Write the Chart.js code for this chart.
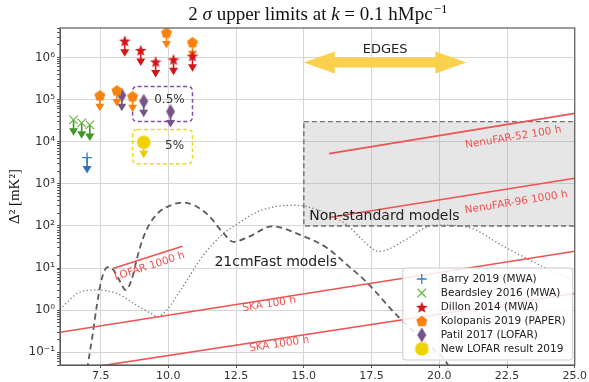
<!DOCTYPE html>
<html>
<head>
<meta charset="utf-8">
<script src="https://cdn.jsdelivr.net/npm/chart.js@4.4.1/dist/chart.umd.min.js"></script>
<style>
  html, body { margin: 0; padding: 0; background: #fff; }
  #chartBox { width: 589px; height: 382px; }
</style>
</head>
<body>
<div id="chartBox"><canvas id="limitsChart" width="589" height="382"></canvas></div>
<script>
// axis ticks
const xTicks = [7.5, 10, 12.5, 15, 17.5, 20, 22.5, 25];
const yTicks = [0.1, 1, 10, 100, 1e3, 1e4, 1e5, 1e6];
const yTickLabels = ['10⁻¹', '10⁰', '10¹', '10²', '10³', '10⁴', '10⁵', '10⁶'];

// 2 sigma upper limits (redshift, Delta^2 in mK^2)
const barryZ = [7.0];
const barryLim = [4.2e3];
const beardsleyZ = [6.5, 6.8, 7.1];
const beardsleyLim = [3.3e4, 2.8e4, 2.5e4];
const dillonZ = [8.39, 8.98, 9.53, 10.19, 10.89];
const dillonLim = [2.5e6, 1.5e6, 8.0e5, 9.0e5, 1.1e6];
const kolopanisZ = [7.47, 8.10, 8.68, 9.93, 10.89];
const kolopanisLim = [1.26e5, 1.65e5, 1.2e5, 3.9e6, 2.3e6];
const patilZ = [8.28, 9.09, 10.08];
const patilLim = [1.26e5, 9.1e4, 5.2e4];
const lofar2019Z = [9.09];
const lofar2019Lim = [9.7e3];

// 21cmFast models
const dashedModelZ = [7.0, 7.2, 7.36, 7.54, 7.76, 7.95, 8.2, 8.43, 8.65, 8.87, 9.06, 9.3, 9.68, 10.04, 10.52,
  11.04, 11.51, 12.0, 12.4, 12.98, 13.83, 14.82, 15.82, 16.66, 17.29, 18.5, 19.5, 20.26, 20.5];
const dashedModelVal = [0.04, 0.25, 1.3, 5.5, 10.5, 9.5, 5, 3, 5.5, 20, 50, 110, 220, 300, 360,
  290, 170, 71, 42, 56, 98, 63, 31, 11, 4.8, 0.68, 0.17, 0.058, 0.03];
const dottedModelZ = [6.0, 6.74, 7.36, 8.1, 8.83, 9.31, 9.6, 9.93, 10.52, 11.26, 12.0, 12.62, 13.24, 13.98,
  14.71, 15.19, 15.93, 16.66, 17.14, 17.76, 18.13, 18.6, 19.86, 21.0, 22.4, 23.8, 25];
const dottedModelVal = [1.05, 2.7, 3.0, 2.5, 1.3, 0.87, 0.7, 1.0, 3.5, 19, 63, 120, 210, 290,
  310, 280, 185, 98, 48, 25, 28, 41, 105, 95, 32, 11, 5];

// expected sensitivities
const lofar1000Z = [7.95, 10.52];
const lofar1000Val = [9.8, 33];
const ska100Z = [6, 25];
const ska100Val = [0.30, 25];
const ska1000Z = [6, 25];
const ska1000Val = [0.034, 2.5];
const nenu52Z = [15.93, 25];
const nenu52Val = [5.2e3, 4.7e4];
const nenu96Z = [15.93, 25];
const nenu96Val = [158, 1350];

// regions
const nonStdZ = [15, 25];
const nonStdRange = [100, 3e4];
const edgesZ = [15.0, 21.0];
const edgesLevel = 7.6e5;
const patilBoxZ = [8.68, 10.89];
const patilBoxRange = [3e4, 2.05e5];
const lofarBoxZ = [8.68, 10.89];
const lofarBoxRange = [3e3, 1.95e4];

const pts = (zs, vs) => zs.map((z, i) => ({ x: z, y: vs[i] }));

// marker images
function markerImg(w, h, draw) {
  const c = document.createElement('canvas');
  c.width = w; c.height = h;
  draw(c.getContext('2d'), w / 2, h / 2);
  return c;
}
const starImg = markerImg(14, 14, (g, cx, cy) => {
  g.beginPath();
  for (let i = 0; i < 10; i++) {
    const a = -Math.PI / 2 + i * Math.PI / 5, r = i % 2 ? 2.6 : 6.2;
    g.lineTo(cx + r * Math.cos(a), cy + r * Math.sin(a) + 0.8);
  }
  g.closePath(); g.fillStyle = '#d0161b'; g.fill();
});
const pentagonImg = markerImg(14, 14, (g, cx, cy) => {
  g.beginPath();
  for (let i = 0; i < 5; i++) {
    const a = -Math.PI / 2 + i * 2 * Math.PI / 5;
    g.lineTo(cx + 5.8 * Math.cos(a), cy + 5.8 * Math.sin(a) + 0.6);
  }
  g.closePath(); g.fillStyle = '#f7820f'; g.fill();
});
const diamondImg = markerImg(12, 18, (g, cx, cy) => {
  g.beginPath();
  g.moveTo(cx, cy - 7.5); g.lineTo(cx + 4.5, cy); g.lineTo(cx, cy + 7.5); g.lineTo(cx - 4.5, cy);
  g.closePath(); g.fillStyle = '#765488'; g.fill();
});
const circleImg = markerImg(16, 16, (g, cx, cy) => {
  g.beginPath(); g.arc(cx, cy, 6.8, 0, Math.PI * 2); g.fillStyle = '#efd300'; g.fill();
});

const redLine = (label, zs, vs, text, tz, tv) => ({
  type: 'line', label, data: pts(zs, vs), borderColor: '#ee5353', borderWidth: 1.6,
  pointRadius: 0, fill: false, order: 1, lineText: text, textAt: [tz, tv]
});

const datasets = [
  { label: 'Barry 2019 (MWA)', data: pts(barryZ, barryLim), pointStyle: 'cross', pointRadius: 5,
    borderColor: '#3b7dc4', borderWidth: 1.3, arrowColor: '#3070bd', order: 0 },
  { label: 'Beardsley 2016 (MWA)', data: pts(beardsleyZ, beardsleyLim), pointStyle: 'crossRot', pointRadius: 6,
    borderColor: '#68b546', borderWidth: 1.2, arrowColor: '#3c9a23', order: 0 },
  { label: 'Dillon 2014 (MWA)', data: pts(dillonZ, dillonLim), pointStyle: starImg, pointRadius: 6,
    arrowColor: '#d0161b', order: 0 },
  { label: 'Kolopanis 2019 (PAPER)', data: pts(kolopanisZ, kolopanisLim), pointStyle: pentagonImg, pointRadius: 6,
    arrowColor: '#f7820f', order: 0 },
  { label: 'Patil 2017 (LOFAR)', data: pts(patilZ, patilLim), pointStyle: diamondImg, pointRadius: 6,
    arrowColor: '#765488', order: 0 },
  { label: 'New LOFAR result 2019', data: pts(lofar2019Z, lofar2019Lim), pointStyle: circleImg, pointRadius: 7,
    arrowColor: '#e8cc00', order: 0 },
  redLine('LOFAR 1000 h', lofar1000Z, lofar1000Val, 'LOFAR 1000 h', 9.31, 11),
  redLine('SKA 100 h', ska100Z, ska100Val, 'SKA 100 h', 13.72, 1.38),
  redLine('SKA 1000 h', ska1000Z, ska1000Val, 'SKA 1000 h', 14.09, 0.155),
  redLine('NenuFAR-52 100 h', nenu52Z, nenu52Val, 'NenuFAR-52 100 h', 22.73, 1.26e4),
  redLine('NenuFAR-96 1000 h', nenu96Z, nenu96Val, 'NenuFAR-96 1000 h', 22.84, 363),
  { type: 'line', label: 'model dashed', data: pts(dashedModelZ, dashedModelVal), borderColor: '#5c5c5c',
    borderWidth: 1.8, borderDash: [6, 4], pointRadius: 0, cubicInterpolationMode: 'monotone', fill: false, order: 2 },
  { type: 'line', label: 'model dotted', data: pts(dottedModelZ, dottedModelVal), borderColor: '#7a7a7a',
    borderWidth: 1.3, borderDash: [1.3, 2.4], pointRadius: 0, cubicInterpolationMode: 'monotone', fill: false, order: 2 }
];

function roundBox(ctx, x0, y0, x1, y1, r) {
  ctx.beginPath();
  ctx.moveTo(x0 + r, y0); ctx.lineTo(x1 - r, y0); ctx.quadraticCurveTo(x1, y0, x1, y0 + r);
  ctx.lineTo(x1, y1 - r); ctx.quadraticCurveTo(x1, y1, x1 - r, y1);
  ctx.lineTo(x0 + r, y1); ctx.quadraticCurveTo(x0, y1, x0, y1 - r);
  ctx.lineTo(x0, y0 + r); ctx.quadraticCurveTo(x0, y0, x0 + r, y0);
  ctx.closePath();
}

const decorPlugin = {
  id: 'decor',
  beforeDatasetsDraw(chart) {
    const { ctx, chartArea: a } = chart;
    const X = chart.scales.x, Y = chart.scales.y;
    ctx.save();
    ctx.beginPath(); ctx.rect(a.left, a.top, a.width, a.height); ctx.clip();
    // non-standard models region
    const x0 = X.getPixelForValue(nonStdZ[0]), x1 = X.getPixelForValue(nonStdZ[1]);
    const y0 = Y.getPixelForValue(nonStdRange[1]), y1 = Y.getPixelForValue(nonStdRange[0]);
    ctx.fillStyle = 'rgba(150,150,150,0.24)';
    ctx.fillRect(x0, y0, x1 - x0, y1 - y0);
    ctx.setLineDash([5, 3]); ctx.strokeStyle = '#707070'; ctx.lineWidth = 1.4;
    ctx.strokeRect(x0, y0, x1 - x0, y1 - y0);
    // 0.5% and 5% boxes
    [[patilBoxZ, patilBoxRange, '#7f52a8'], [lofarBoxZ, lofarBoxRange, '#e6dc1e']].forEach(([bz, br, col]) => {
      roundBox(ctx, X.getPixelForValue(bz[0]), Y.getPixelForValue(br[1]),
        X.getPixelForValue(bz[1]), Y.getPixelForValue(br[0]), 5);
      ctx.setLineDash([4, 2.5]); ctx.strokeStyle = col; ctx.lineWidth = 1.5; ctx.stroke();
    });
    ctx.setLineDash([]);
    // EDGES double arrow
    const xl = X.getPixelForValue(edgesZ[0]), xr = X.getPixelForValue(edgesZ[1]);
    const yc = Y.getPixelForValue(edgesLevel), hl = 31, hh = 11, bh = 5;
    ctx.beginPath();
    ctx.moveTo(xl, yc); ctx.lineTo(xl + hl, yc - hh); ctx.lineTo(xl + hl, yc - bh);
    ctx.lineTo(xr - hl, yc - bh); ctx.lineTo(xr - hl, yc - hh); ctx.lineTo(xr, yc);
    ctx.lineTo(xr - hl, yc + hh); ctx.lineTo(xr - hl, yc + bh); ctx.lineTo(xl + hl, yc + bh);
    ctx.lineTo(xl + hl, yc + hh); ctx.closePath();
    ctx.fillStyle = '#fbd04c'; ctx.fill();
    ctx.fillStyle = '#222'; ctx.font = '13px "DejaVu Sans"'; ctx.textAlign = 'center'; ctx.textBaseline = 'middle';
    ctx.fillText('EDGES', (xl + xr) / 2, yc - 13);
    ctx.restore();
  },
  beforeDatasetDraw(chart, args) {
    const ds = chart.data.datasets[args.index];
    if (!ds.arrowColor) return;
    const ctx = chart.ctx;
    ctx.save();
    ctx.strokeStyle = ds.arrowColor; ctx.fillStyle = ds.arrowColor; ctx.lineWidth = 1.6;
    args.meta.data.forEach(p => {
      const L = 16;
      ctx.beginPath(); ctx.moveTo(p.x, p.y); ctx.lineTo(p.x, p.y + L - 5); ctx.stroke();
      ctx.beginPath(); ctx.moveTo(p.x, p.y + L); ctx.lineTo(p.x - 4.5, p.y + L - 7.5);
      ctx.lineTo(p.x + 4.5, p.y + L - 7.5); ctx.closePath(); ctx.fill();
    });
    ctx.restore();
  },
  afterDatasetsDraw(chart) {
    const { ctx, chartArea: a } = chart;
    const X = chart.scales.x, Y = chart.scales.y;
    ctx.save();
    // labels along the sensitivity lines
    chart.data.datasets.forEach((ds, i) => {
      if (!ds.lineText) return;
      const m = chart.getDatasetMeta(i).data;
      const ang = Math.atan2(m[1].y - m[0].y, m[1].x - m[0].x);
      ctx.save();
      ctx.translate(X.getPixelForValue(ds.textAt[0]), Y.getPixelForValue(ds.textAt[1]));
      ctx.rotate(ang);
      ctx.fillStyle = '#ee5353'; ctx.font = '10.5px "DejaVu Sans"';
      ctx.textAlign = 'center'; ctx.textBaseline = 'middle';
      ctx.fillText(ds.lineText, 0, 0);
      ctx.restore();
    });
    ctx.fillStyle = '#222'; ctx.textBaseline = 'middle'; ctx.textAlign = 'left';
    ctx.font = '14px "DejaVu Sans"';
    ctx.fillText('Non-standard models', X.getPixelForValue(15.2), Y.getPixelForValue(165));
    ctx.fillText('21cmFast models', X.getPixelForValue(11.7), Y.getPixelForValue(14));
    ctx.font = '12px "DejaVu Sans"'; ctx.textAlign = 'center'; ctx.fillStyle = '#333';
    ctx.fillText('0.5%', X.getPixelForValue(10.04), Y.getPixelForValue(1e5));
    ctx.fillText('5%', X.getPixelForValue(10.23), Y.getPixelForValue(7.8e3));
    // frame
    ctx.strokeStyle = '#5a5a5a'; ctx.lineWidth = 1.2;
    ctx.strokeRect(a.left, a.top, a.width, a.height);
    ctx.restore();
  },
  afterDraw(chart) {
    const { ctx, chartArea: a } = chart;
    ctx.save();
    // legend
    const lx = a.right - 172, ly = a.bottom - 97, lw = 170, lh = 92;
    roundBox(ctx, lx, ly, lx + lw, ly + lh, 3);
    ctx.fillStyle = 'rgba(255,255,255,0.85)'; ctx.fill();
    ctx.strokeStyle = '#cccccc'; ctx.lineWidth = 1; ctx.stroke();
    chart.data.datasets.filter(d => d.arrowColor).forEach((d, i) => {
      const y = ly + 11 + i * 14;
      ctx.strokeStyle = d.borderColor || '#000'; ctx.lineWidth = d.borderWidth || 1;
      Chart.helpers.drawPoint(ctx, { pointStyle: d.pointStyle, radius: d.pointRadius, rotation: 0,
        borderWidth: d.borderWidth || 1 }, lx + 19, y);
      ctx.fillStyle = '#222'; ctx.font = '10.5px "DejaVu Sans"';
      ctx.textAlign = 'left'; ctx.textBaseline = 'middle';
      ctx.fillText(d.label, lx + 38, y + 0.5);
    });
    // title
    const parts = [
      ['2 ', ''], ['σ', 'italic '], [' upper limits at ', ''], ['k', 'italic '], [' = 0.1 hMpc', '']
    ];
    ctx.fillStyle = '#111'; ctx.textBaseline = 'alphabetic'; ctx.textAlign = 'left';
    let total = 0;
    parts.forEach(([t, s]) => { ctx.font = s + '19px "Liberation Serif"'; total += ctx.measureText(t).width; });
    ctx.font = '13px "Liberation Serif"';
    total += ctx.measureText('−1').width;
    let x = (a.left + a.right) / 2 - total / 2;
    const by = 20;
    parts.forEach(([t, s]) => {
      ctx.font = s + '19px "Liberation Serif"';
      ctx.fillText(t, x, by); x += ctx.measureText(t).width;
    });
    ctx.font = '13px "Liberation Serif"';
    ctx.fillText('−1', x + 1, by - 7);
    // y axis title
    ctx.translate(15, (a.top + a.bottom) / 2);
    ctx.rotate(-Math.PI / 2);
    ctx.font = '15px "Liberation Serif"'; ctx.textAlign = 'center'; ctx.textBaseline = 'middle';
    ctx.fillText('Δ² [mK²]', 0, 0);
    ctx.restore();
  }
};

new Chart(document.getElementById('limitsChart'), {
  type: 'scatter',
  data: { datasets },
  plugins: [decorPlugin],
  options: {
    responsive: false,
    animation: false,
    layout: { padding: { left: 0, top: 28, right: 14, bottom: 0 } },
    plugins: { legend: { display: false }, tooltip: { enabled: false } },
    scales: {
      x: {
        type: 'linear', min: 6, max: 25,
        afterBuildTicks: s => { s.ticks = xTicks.map(v => ({ value: v })); },
        afterFit: s => { s.height = 17; },
        ticks: { color: '#333', font: { family: 'DejaVu Sans', size: 11 }, padding: 2,
          callback: v => v.toFixed(1), maxRotation: 0, autoSkip: false },
        grid: { color: '#d6d6d6', tickColor: '#555', tickLength: 3 },
        border: { color: '#5a5a5a' }
      },
      y: {
        type: 'logarithmic', min: 0.05, max: 5e6,
        afterBuildTicks: s => {
          const t = [];
          for (let e = -2; e <= 6; e++) {
            for (let m = 1; m <= 9; m++) {
              const v = m * Math.pow(10, e);
              if (v >= 0.05 && v <= 5e6) t.push({ value: v, major: m === 1 });
            }
          }
          s.ticks = t;
        },
        afterFit: s => { s.width = 60; },
        ticks: {
          color: '#333', font: { family: 'DejaVu Sans', size: 12 }, padding: 2, autoSkip: false,
          callback: (v, i, ticks) => {
            if (!ticks[i].major) return '';
            const k = yTicks.findIndex(t => Math.abs(t - v) / t < 1e-9);
            return k >= 0 ? yTickLabels[k] : '';
          }
        },
        grid: {
          color: c => (c.tick && c.tick.major ? '#d6d6d6' : 'rgba(0,0,0,0)'),
          tickColor: '#555', tickLength: 3
        },
        border: { color: '#5a5a5a' }
      }
    }
  }
});
</script>
</body>
</html>
